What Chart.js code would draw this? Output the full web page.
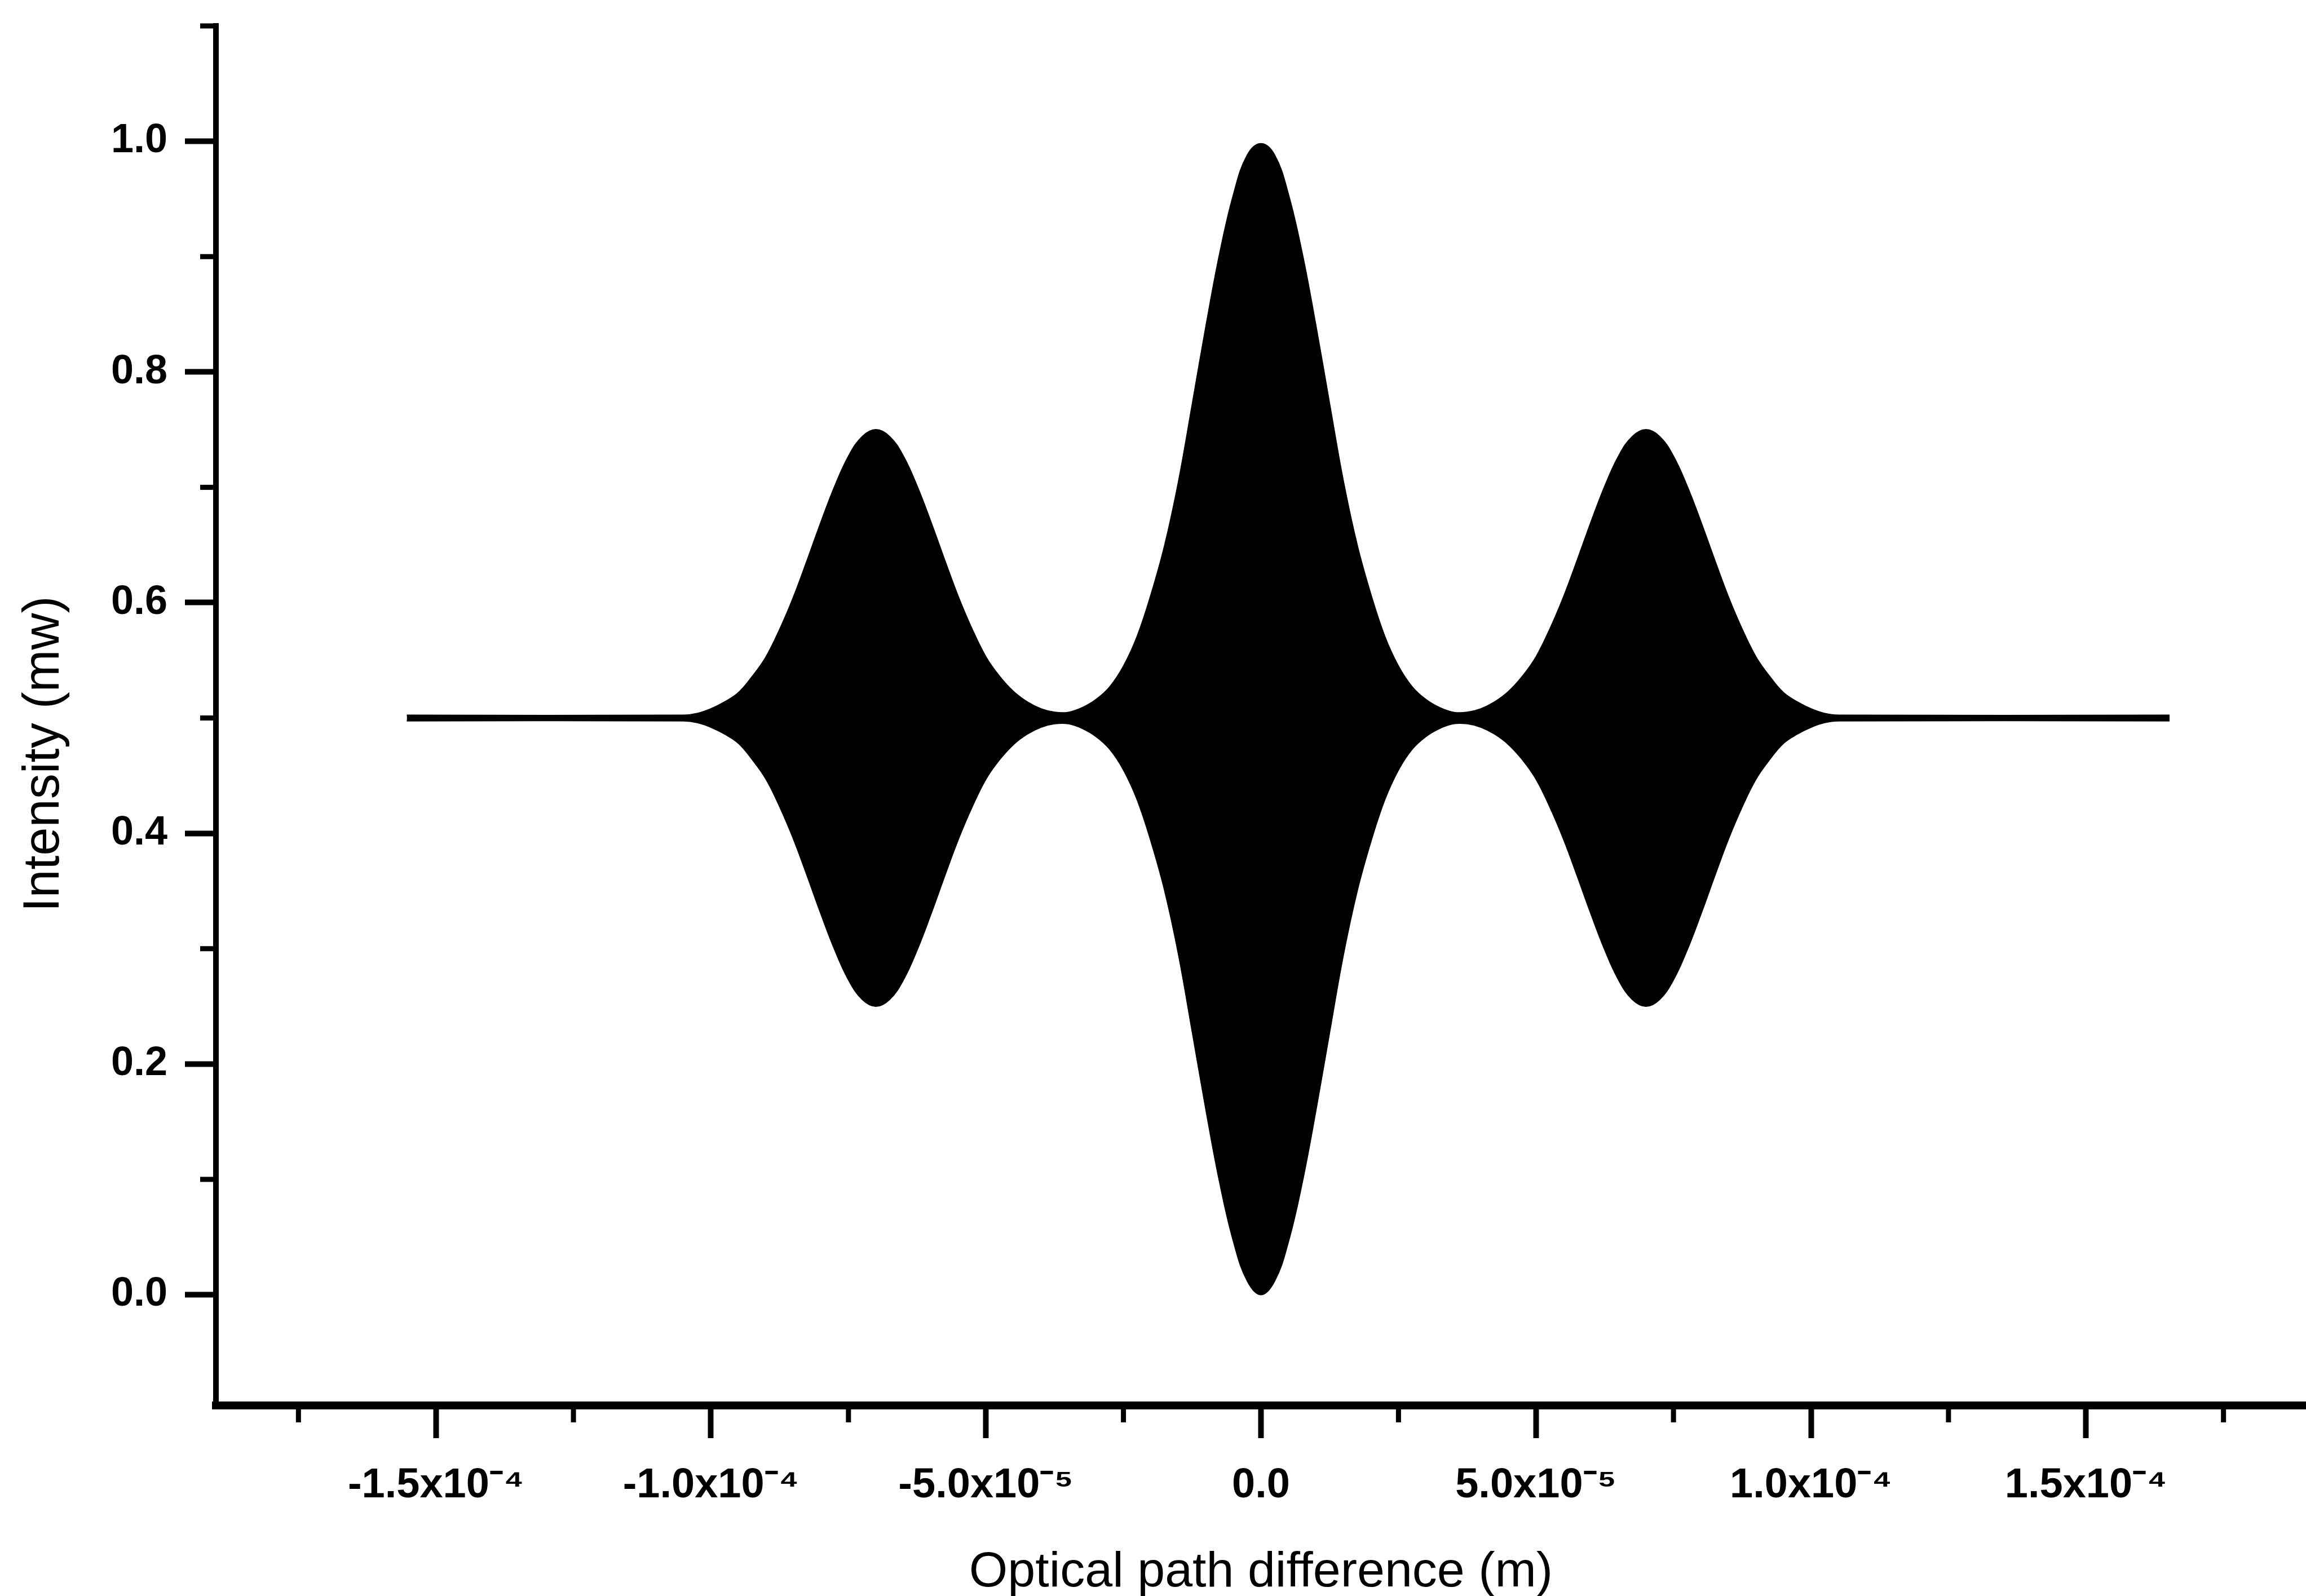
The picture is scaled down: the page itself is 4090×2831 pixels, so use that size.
<!DOCTYPE html>
<html>
<head>
<meta charset="utf-8">
<title>Optical path difference</title>
<script src="https://cdn.jsdelivr.net/npm/chart.js"></script>
<style>
  html, body { margin: 0; padding: 0; background: #fff; }
  canvas { display: block; }
</style>
</head>
<body>
<canvas id="chart_canvas" width="4090" height="2831"></canvas>
<script>
// optical path difference, in units of 1e-5 m
var opdE5 = [-15.53,
  -10.5, -10.25, -10, -9.75, -9.5, -9.25, -9, -8.75, -8.5, -8.25, -8, -7.75, -7.5, -7.25, -7,
  -6.75, -6.5, -6.25, -6, -5.75, -5.5, -5.25, -5, -4.75, -4.5, -4.25, -4, -3.75, -3.5, -3.25, -3,
  -2.75, -2.5, -2.25, -2, -1.75, -1.5, -1.25, -1, -0.75, -0.5, -0.25, 0,
  0.25, 0.5, 0.75, 1, 1.25, 1.5, 1.75, 2, 2.25, 2.5, 2.75, 3, 3.25, 3.5, 3.75, 4,
  4.25, 4.5, 4.75, 5, 5.25, 5.5, 5.75, 6, 6.25, 6.5, 6.75, 7, 7.25, 7.5, 7.75, 8,
  8.25, 8.5, 8.75, 9, 9.25, 9.5, 9.75, 10, 10.25, 10.5,
  16.52];

// upper edge of the fringe band (mW)
var upperEnv = [0.5025,
  0.5025, 0.504, 0.508, 0.514, 0.522, 0.536, 0.553, 0.577, 0.605, 0.637, 0.670, 0.701, 0.727, 0.744, 0.750,
  0.744, 0.727, 0.701, 0.670, 0.637, 0.605, 0.577, 0.553, 0.536, 0.523, 0.514, 0.508, 0.505, 0.505, 0.509, 0.516,
  0.527, 0.545, 0.571, 0.607, 0.650, 0.705, 0.772, 0.840, 0.903, 0.954, 0.988, 0.998,
  0.988, 0.954, 0.903, 0.840, 0.772, 0.705, 0.650, 0.607, 0.571, 0.545, 0.527, 0.516, 0.509, 0.505, 0.505, 0.508,
  0.514, 0.523, 0.536, 0.553, 0.577, 0.605, 0.637, 0.670, 0.701, 0.727, 0.744, 0.750, 0.744, 0.727, 0.701, 0.670,
  0.637, 0.605, 0.577, 0.553, 0.536, 0.522, 0.514, 0.508, 0.504, 0.5025,
  0.5025];

// lower edge of the fringe band (mW)
var lowerEnv = [0.4975,
  0.4975, 0.496, 0.492, 0.486, 0.478, 0.464, 0.447, 0.423, 0.395, 0.363, 0.330, 0.299, 0.273, 0.256, 0.250,
  0.256, 0.273, 0.299, 0.330, 0.363, 0.395, 0.423, 0.447, 0.464, 0.477, 0.486, 0.492, 0.495, 0.495, 0.491, 0.484,
  0.473, 0.455, 0.429, 0.393, 0.350, 0.295, 0.228, 0.160, 0.097, 0.046, 0.012, 0.000,
  0.012, 0.046, 0.097, 0.160, 0.228, 0.295, 0.350, 0.393, 0.429, 0.455, 0.473, 0.484, 0.491, 0.495, 0.495, 0.492,
  0.486, 0.477, 0.464, 0.447, 0.423, 0.395, 0.363, 0.330, 0.299, 0.273, 0.256, 0.250, 0.256, 0.273, 0.299, 0.330,
  0.363, 0.395, 0.423, 0.447, 0.464, 0.478, 0.486, 0.492, 0.496, 0.4975,
  0.4975];

var xTickValues = [-15, -10, -5, 0, 5, 10, 15];
var xTickLabels = ['-1.5x10\u207B\u2074', '-1.0x10\u207B\u2074', '-5.0x10\u207B\u2075', '0.0',
  '5.0x10\u207B\u2075', '1.0x10\u207B\u2074', '1.5x10\u207B\u2074'];
var xMinorTicks = [-17.5, -12.5, -7.5, -2.5, 2.5, 7.5, 12.5, 17.5];

var yTickValues = [0, 0.2, 0.4, 0.6, 0.8, 1.0];
var yTickLabels = ['0.0', '0.2', '0.4', '0.6', '0.8', '1.0'];
var yMinorTicks = [0.1, 0.3, 0.5, 0.7, 0.9, 1.1];

/**
 * Zip one envelope column with the x positions
 */
function toPoints(values) {
  var pts = [];
  for (var i = 0; i < opdE5.length; i++) {
    pts.push({ x: opdE5[i], y: values[i] });
  }
  return pts;
}

// short unlabelled ticks between the major ones, and the y title, which in the
// original sits a bit below the middle of the axis
var axisExtrasPlugin = {
  id: 'axisExtras',
  afterDraw: function(chart) {
    var ctx = chart.ctx;
    var xs = chart.scales.x;
    var ys = chart.scales.y;
    ctx.save();
    ctx.strokeStyle = '#000';
    ctx.lineWidth = 9;
    xMinorTicks.forEach(function(v) {
      var px = xs.getPixelForValue(v);
      ctx.beginPath();
      ctx.moveTo(px, xs.top);
      ctx.lineTo(px, xs.top + 30);
      ctx.stroke();
    });
    yMinorTicks.forEach(function(v) {
      var py = ys.getPixelForValue(v);
      ctx.beginPath();
      ctx.moveTo(ys.right, py);
      ctx.lineTo(ys.right - 28, py);
      ctx.stroke();
    });

    var title = ys.options.title;
    ctx.translate(ys.left + 79, (ys.top + ys.bottom) / 2 + 68);
    ctx.rotate(-Math.PI / 2);
    ctx.fillStyle = '#000';
    ctx.font = '90px "Liberation Sans"';
    ctx.textAlign = 'center';
    ctx.textBaseline = 'middle';
    ctx.fillText(title.text, 0, 0);
    ctx.restore();
  }
};

// the scales would otherwise push the plot area in to make room for half a label
function noLabelPadding(scale) {
  scale.paddingTop = 0;
  scale.paddingBottom = 0;
  scale.paddingLeft = 0;
  scale.paddingRight = 0;
}

var ctx = document.getElementById('chart_canvas').getContext('2d');
var myChart = new Chart(ctx, {
  type: 'line',
  data: {
    datasets: [{
      label: 'upper',
      data: toPoints(upperEnv),
      borderColor: '#000',
      backgroundColor: '#000',
      borderWidth: 2,
      pointRadius: 0,
      fill: '+1',
      tension: 0.4
    }, {
      label: 'lower',
      data: toPoints(lowerEnv),
      borderColor: '#000',
      backgroundColor: '#000',
      borderWidth: 2,
      pointRadius: 0,
      fill: false,
      tension: 0.4
    }]
  },
  options: {
    responsive: false,
    devicePixelRatio: 1,
    animation: false,
    layout: { autoPadding: false, padding: { top: 46, right: 0, bottom: 0, left: 0 } },
    plugins: {
      legend: { display: false },
      tooltip: { enabled: false }
    },
    scales: {
      x: {
        type: 'linear',
        min: -19,
        max: 19,
        afterBuildTicks: function(scale) {
          scale.ticks = xTickValues.map(function(v) { return { value: v }; });
        },
        afterFit: function(scale) {
          scale.height = 338;
          noLabelPadding(scale);
        },
        ticks: {
          autoSkip: false,
          maxRotation: 0,
          padding: 40,
          color: '#000',
          font: { family: 'Liberation Sans', size: 74, weight: 'bold' },
          callback: function(value, index) { return xTickLabels[index]; }
        },
        grid: { drawOnChartArea: false, tickLength: 58, tickWidth: 10, tickColor: '#000' },
        border: { display: true, width: 14, color: '#000' },
        title: {
          display: true,
          text: 'Optical path difference (m)',
          color: '#000',
          font: { family: 'Liberation Sans', size: 88 },
          padding: { top: 0, bottom: -12 }
        }
      },
      y: {
        min: -0.096,
        max: 1.1,
        afterBuildTicks: function(scale) {
          scale.ticks = yTickValues.map(function(v) { return { value: v }; });
        },
        afterFit: function(scale) {
          scale.width = 383;
          noLabelPadding(scale);
        },
        ticks: {
          autoSkip: false,
          padding: 31,
          color: '#000',
          font: { family: 'Liberation Sans', size: 72, weight: 'bold' },
          callback: function(value, index) { return yTickLabels[index]; }
        },
        grid: { drawOnChartArea: false, tickLength: 55, tickWidth: 10, tickColor: '#000' },
        border: { display: true, width: 10, color: '#000' },
        // drawn by axisExtrasPlugin
        title: { display: false, text: 'Intensity (mw)' }
      }
    }
  },
  plugins: [axisExtrasPlugin]
});
</script>
</body>
</html>
